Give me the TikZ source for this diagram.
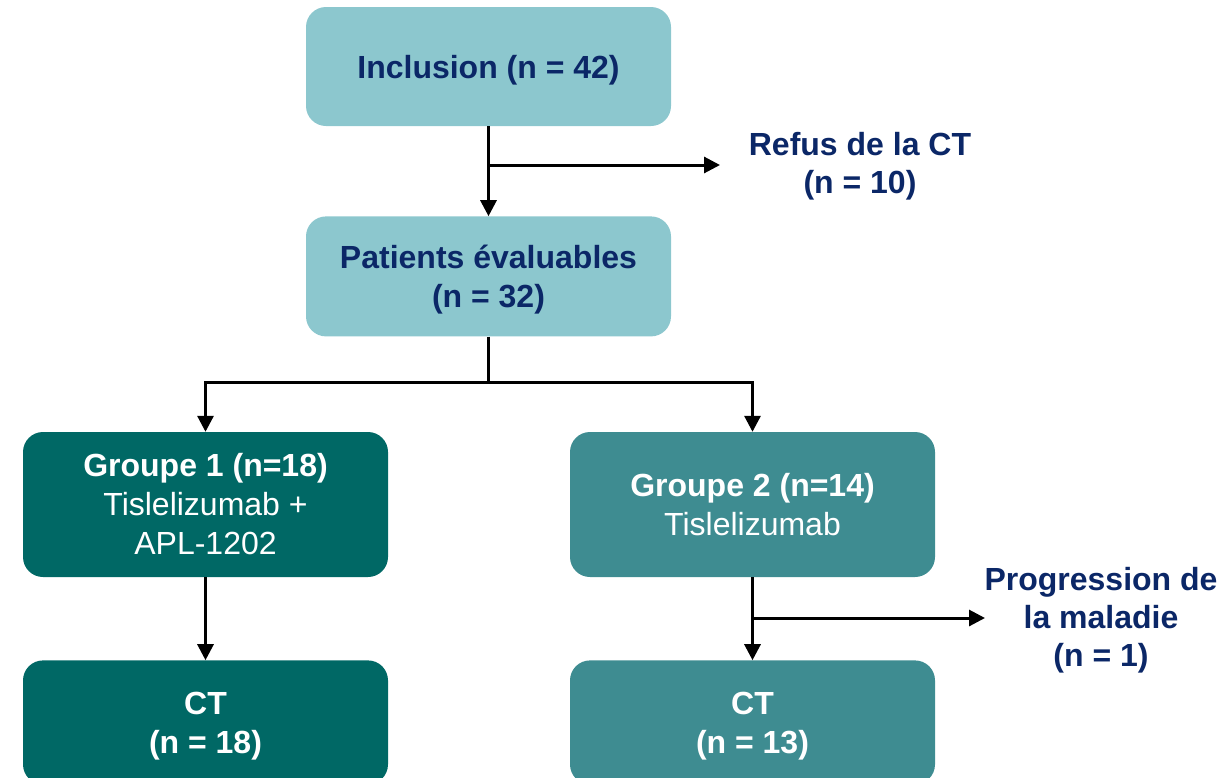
\documentclass[tikz,border=0pt]{standalone}
\usepackage{fontspec}
\setmainfont{Liberation Sans}
\usepackage{xcolor}
\usetikzlibrary{arrows.meta, positioning, calc}

\definecolor{tealLight}{HTML}{8CC7CE}
\definecolor{tealDark}{HTML}{006865}
\definecolor{tealMid}{HTML}{3E8C91}
\definecolor{navyText}{HTML}{0B2767}

\begin{document}
\begin{tikzpicture}[
    x=1pt, y=-1pt,
    >={Triangle[length=16pt, width=16pt]},
    flow_box/.style={
        rectangle,
        fill=#1,
        rounded corners=20pt,
        minimum width=365pt,
        inner sep=0pt,
        align=center,
        font=\fontsize{32}{39}\selectfont
    },
    bold_box/.style={
        flow_box=#1,
        text depth=0pt,
        font=\fontsize{32}{39}\selectfont\bfseries
    },
    exit_label/.style={
        align=center,
        inner sep=0pt,
        text=navyText,
        font=\fontsize{32}{38}\selectfont\bfseries
    },
    line_plain/.style={
        line width=3pt,
        color=black
    },
    line_arrow/.style={
        ->,
        line width=3pt,
        color=black
    }
]
    \useasboundingbox (0,0) rectangle (1229,777);

    % Flowchart Nodes
    \node (incl) [bold_box=tealLight, minimum height=119pt, text=navyText] at (488.5,66.5) {Inclusion (n = 42)};

    \node (eval) [bold_box=tealLight, minimum height=120pt, text=navyText, below=90pt of incl] {Patients évaluables\\(n = 32)};

    \node (grp1) [flow_box=tealDark, minimum height=145pt, text=white] at (205.5,504.5) {\textbf{Groupe 1 (n=18)}\\Tislelizumab +\\APL-1202};

    \node (grp2) [flow_box=tealMid, minimum height=145pt, text=white, text depth=0pt] at (752.5,504.5) {\textbf{Groupe 2 (n=14)}\\Tislelizumab};

    \node (ct1) [bold_box=tealDark, minimum height=124pt, text=white, below=83pt of grp1] {CT\\(n = 18)};

    \node (ct2) [bold_box=tealMid, minimum height=124pt, text=white, below=83pt of grp2] {CT\\(n = 13)};

    % Exit labels
    \node (refus) [exit_label] at (860,166.5) {Refus de la CT\\(n = 10)};
    \node (prog) [exit_label] at (1101,620) {Progression de\\la maladie\\(n = 1)};

    \coordinate (split1) at (488.5,165);
    \coordinate (refus_in) at (720,165);
    \coordinate (split2) at (488.5,382);
    \coordinate (split3) at (752.5,618);
    \coordinate (prog_in) at (985,618);

    % Main Flow Connections
    \draw [line_arrow] (incl) -- (eval);
    \draw [line_arrow] (split1) -- (refus_in);

    \draw [line_plain] (eval.south) -- (split2);
    \draw [line_arrow] (split2) -| (grp1.north);
    \draw [line_arrow] (split2) -| (grp2.north);

    \draw [line_arrow] (grp1) -- (ct1);
    \draw [line_arrow] (grp2) -- (ct2);
    \draw [line_arrow] (split3) -- (prog_in);

\end{tikzpicture}
\end{document}
